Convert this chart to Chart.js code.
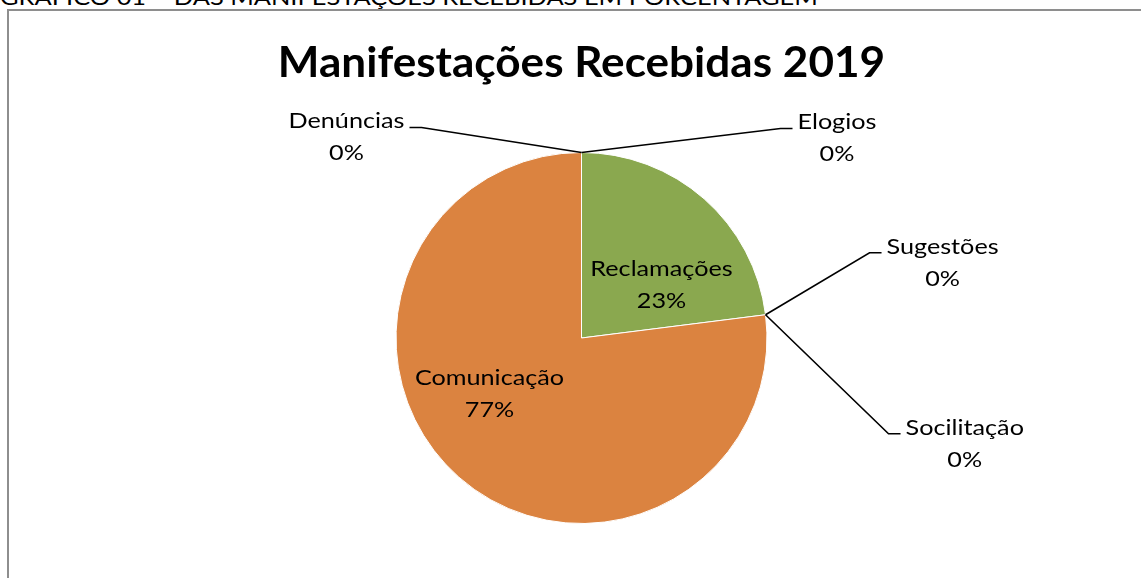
<!DOCTYPE html>
<html>
<head>
<meta charset="utf-8">
<script src="https://cdn.jsdelivr.net/npm/chart.js@4"></script>
<style>
body{margin:0;width:1141px;height:578px;overflow:hidden;background:#fff;font-family:Lato,sans-serif;}
#caption{position:absolute;left:0;top:-13px;font-size:21px;line-height:20px;white-space:nowrap;color:#000;transform:scaleX(1.21);transform-origin:0 0;}
#frame{position:absolute;left:7px;top:9px;width:1200px;height:640px;border:2px solid #8e8e8e;}
#wrap{position:absolute;left:0;top:0;width:1141px;height:578px;}
</style>
</head>
<body>
<div id="caption">GRÁFICO 01 – DAS MANIFESTAÇÕES RECEBIDAS EM PORCENTAGEM</div>
<div id="frame"></div>
<div id="wrap"><canvas id="grafico"></canvas></div>
<script>
// dados do grafico
let categorias=["Denúncias","Elogios","Reclamações","Sugestões","Socilitação","Comunicação"];
let valores=[0,0,23,0,0,77];
let cores=["#4f81bd","#c0504d","#8aa84f","#8064a2","#4bacc6","#db8340"];
let titulo="Manifestações Recebidas 2019";

// posicao dos rotulos: dentro (relativo ao centro) ou fora (cotovelo relativo ao ponto na borda)
let rotulos=[
{tipo:"fora",dx:-160,dy:-25,lado:-1},
{tipo:"fora",dx:199,dy:-24,lado:1},
{tipo:"dentro",dx:80,dy:-53},
{tipo:"fora",dx:104,dy:-62,lado:1},
{tipo:"fora",dx:123,dy:119,lado:1},
{tipo:"dentro",dx:-92,dy:56}
];

let fonteRotulo="21px Lato";
let fonteTitulo="bold 42px Lato";
let esticar=1.2; // texto do original e mais largo
let esticarTitulo=1.05;

function texto(ctx,s,x,y,sx){
ctx.save();
ctx.translate(x,y);
ctx.scale(sx||esticar,1);
ctx.fillText(s,0,0);
ctx.restore();
}

let pluginRotulos={
id:"rotulos",
afterDatasetsDraw(chart){
let ctx=chart.ctx;
let meta=chart.getDatasetMeta(0);
let total=valores.reduce((a,b)=>a+b,0);
ctx.save();
ctx.fillStyle="#000";
ctx.strokeStyle="#000";
ctx.lineWidth=1.6;
ctx.textAlign="center";
// titulo
ctx.font=fonteTitulo;
ctx.textBaseline="alphabetic";
let a=chart.chartArea;
texto(ctx,titulo,(a.left+a.right)/2,77,esticarTitulo);
ctx.font=fonteRotulo;
ctx.textBaseline="middle";
meta.data.forEach((arc,i)=>{
let p=arc.getProps(["x","y","startAngle","endAngle","outerRadius"],true);
let pct=Math.round(valores[i]/total*100)+"%";
let r=rotulos[i];
if(r.tipo==="dentro"){
texto(ctx,categorias[i],p.x+r.dx,p.y+r.dy-16);
texto(ctx,pct,p.x+r.dx,p.y+r.dy+16);
return;
}
let mid=(p.startAngle+p.endAngle)/2;
let ax=p.x+Math.cos(mid)*p.outerRadius;
let ay=p.y+Math.sin(mid)*p.outerRadius;
let ex=ax+r.dx, ey=ay+r.dy;
let fx=ex+12*r.lado;
ctx.beginPath();
ctx.moveTo(ax,ay);
ctx.lineTo(ex,ey);
ctx.lineTo(fx,ey);
ctx.stroke();
let w=ctx.measureText(categorias[i]).width*esticar;
let cx=r.lado>0?fx+5+w/2:fx-5-w/2;
texto(ctx,categorias[i],cx,ey-6);
texto(ctx,pct,cx,ey+26);
});
ctx.restore();
}
};

new Chart(document.getElementById("grafico"),{
type:"pie",
data:{
labels:categorias,
datasets:[{
data:valores,
backgroundColor:cores,
borderColor:"#fff",
borderWidth:valores.map(v=>v>0?1:0)
}]
},
options:{
responsive:true,
maintainAspectRatio:false,
animation:false,
layout:{padding:{left:22,right:0,top:152,bottom:54}},
plugins:{
legend:{display:false},
tooltip:{enabled:false},
title:{display:false}
}
},
plugins:[pluginRotulos]
});
</script>
</body>
</html>
